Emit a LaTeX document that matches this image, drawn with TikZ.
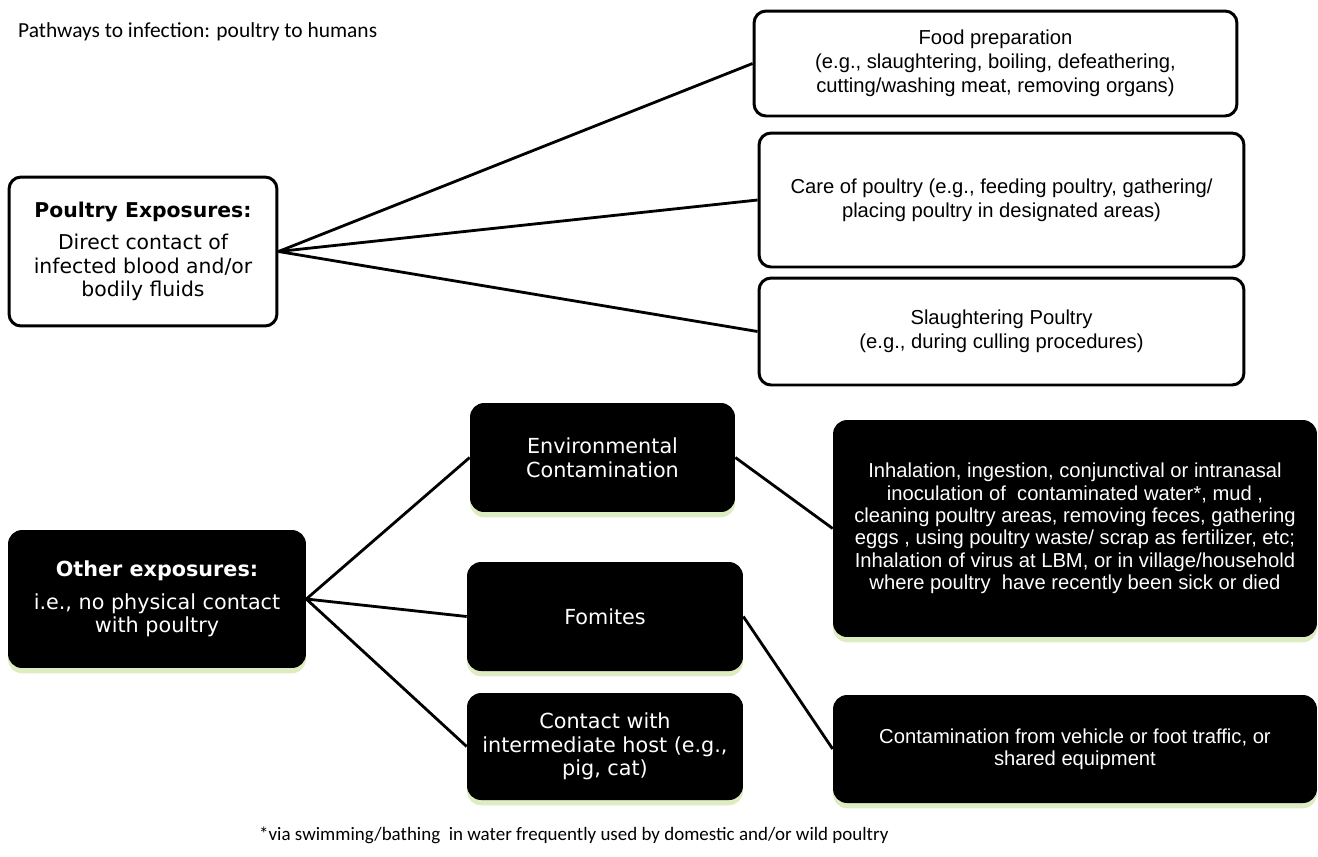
\documentclass[tikz,border=0pt]{standalone}
\usepackage{fontspec}
\setmainfont{Liberation Sans}
\newfontfamily\notefont{Carlito}
\newfontfamily\boxfont{DejaVu Sans}
\usetikzlibrary{shadows}
\definecolor{glow}{RGB}{214,232,178}

\begin{document}
\begin{tikzpicture}[x=0.02cm, y=-0.02cm,
        whitebox/.style={draw, line width=1.7pt, rounded corners=0.24cm, fill=white,
            align=center, inner sep=0pt, font=\fontsize{11.5}{13.6}\selectfont},
        leftbox/.style={whitebox, font=\boxfont\fontsize{11.6}{13.4}\selectfont},
        darkbox/.style={fill=black, text=white, rounded corners=0.28cm, align=center,
            inner sep=0pt, font=\boxfont\fontsize{11.8}{13.4}\selectfont,
            drop shadow={fill=glow, shadow xshift=0pt, shadow yshift=-3pt, opacity=0.8}},
        darkwide/.style={darkbox, font=\fontsize{11.5}{12.7}\selectfont},
        link/.style={line width=1.6pt}]
    \useasboundingbox (0,0) rectangle (1318,856);
    \node[anchor=west, font=\notefont\fontsize{12.2}{14}\selectfont] (title) at (12,32)
        {Pathways to infection: poultry to humans};
    \node[leftbox, minimum width=5.36cm, minimum height=2.98cm] (pe) at (143,251.5)
        {\textbf{Poultry Exposures:}\\[5pt] Direct contact of\\infected blood and/or\\bodily fluids};
    \node[whitebox, minimum width=9.66cm, minimum height=2.1cm] (food) at (995.5,63.5)
        {Food preparation\\(e.g., slaughtering, boiling, defeathering,\\cutting/washing meat, removing organs)};
    \node[whitebox, minimum width=9.7cm, minimum height=2.68cm] (care) at (1001.5,200)
        {Care of poultry (e.g., feeding poultry, gathering/\\placing poultry in designated areas)};
    \node[whitebox, minimum width=9.7cm, minimum height=2.14cm] (slaughter) at (1001.5,331.5)
        {Slaughtering Poultry\\(e.g., during culling procedures)};
    \node[darkbox, minimum width=5.96cm, minimum height=2.76cm] (oe) at (157,599)
        {\textbf{Other exposures:}\\[5pt] i.e., no physical contact\\with poultry};
    \node[darkbox, minimum width=5.3cm, minimum height=2.18cm] (env) at (602.5,457.5)
        {Environmental\\Contamination};
    \node[darkbox, minimum width=5.52cm, minimum height=2.18cm] (fomites) at (605,616.5)
        {Fomites};
    \node[darkbox, minimum width=5.52cm, minimum height=2.14cm] (host) at (605,746.5)
        {Contact with\\intermediate host (e.g.,\\pig, cat)};
    \node[darkwide, minimum width=9.68cm, minimum height=4.34cm] (inhal) at (1075,528.5)
        {Inhalation, ingestion, conjunctival or intranasal\\
        inoculation of\ \ contaminated water*, mud ,\\
        cleaning poultry areas, removing feces, gathering\\
        eggs , using poultry waste/ scrap as fertilizer, etc;\\
        Inhalation of virus at LBM, or in village/household\\
        where poultry\ \ have\ recently been sick or died};
    \node[darkwide, minimum width=9.68cm, minimum height=2.16cm] (traffic) at (1075,749)
        {Contamination from vehicle or foot traffic, or\\shared equipment};
    \node[anchor=west, font=\notefont\fontsize{10.8}{13}\selectfont] (note) at (253,835)
        {*via swimming/bathing\ \ in water frequently used by domestic and/or wild poultry};
    \draw[link] (pe.east) -- (food.west);
    \draw[link] (pe.east) -- (care.west);
    \draw[link] (pe.east) -- (slaughter.west);
    \draw[link] (oe.east) -- (env.west);
    \draw[link] (oe.east) -- (fomites.west);
    \draw[link] (oe.east) -- (host.west);
    \draw[link] (env.east) -- (inhal.west);
    \draw[link] (fomites.east) -- (traffic.west);
\end{tikzpicture}
\end{document}
